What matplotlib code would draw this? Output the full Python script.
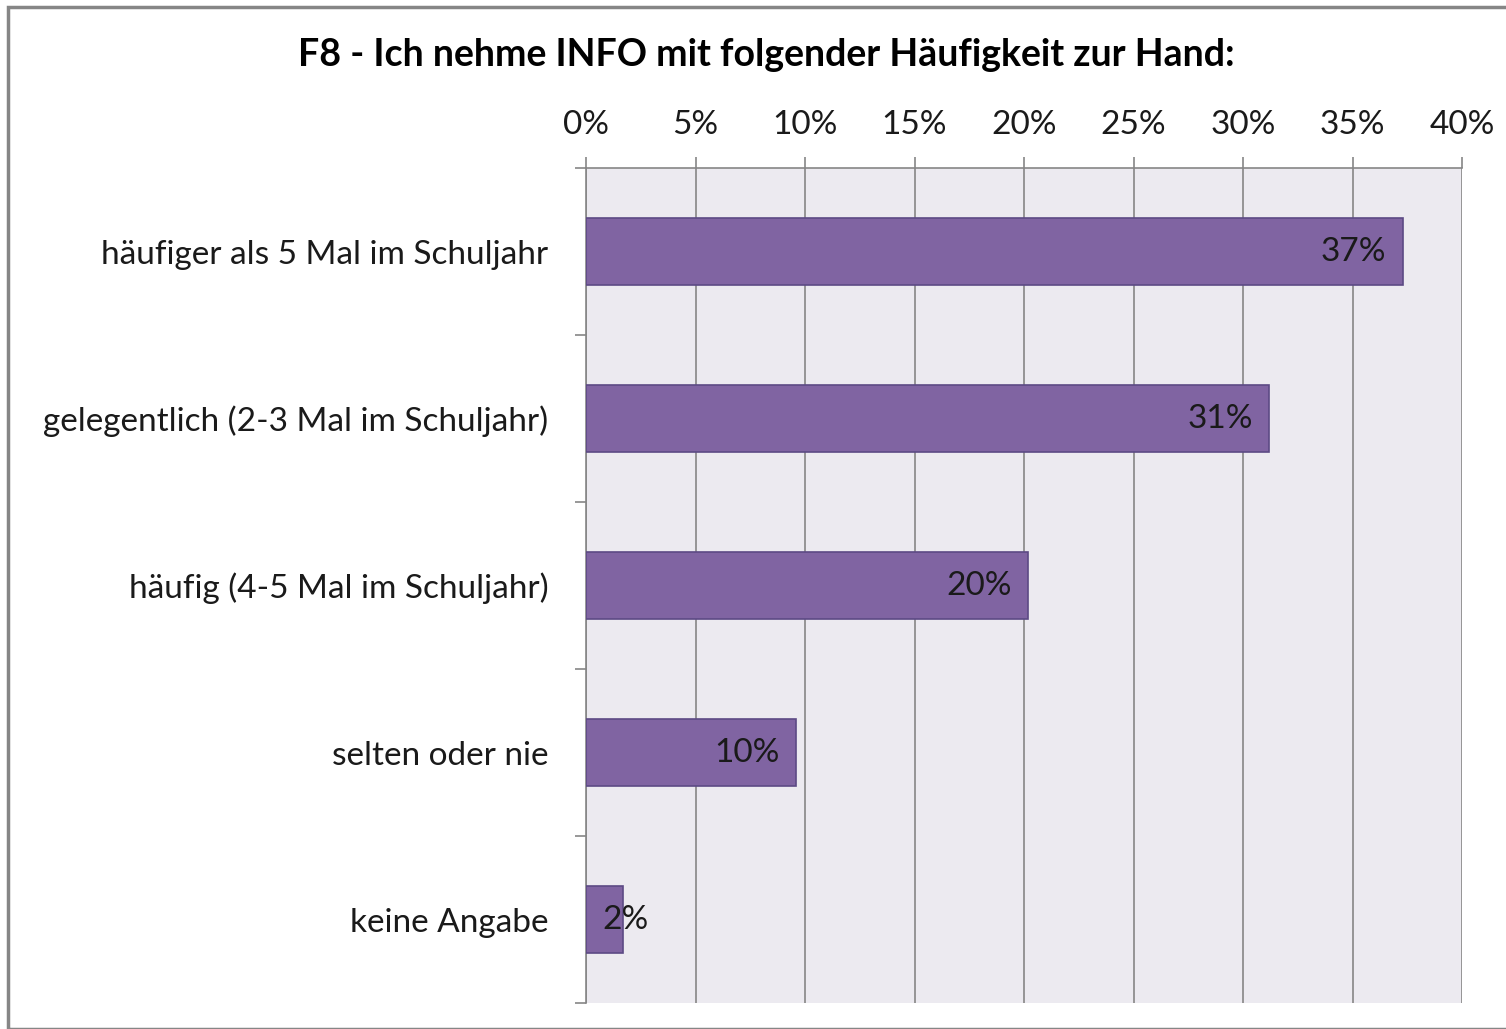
import matplotlib
matplotlib.use("Agg")
import matplotlib.pyplot as plt
from matplotlib.patches import Rectangle
from matplotlib.ticker import FuncFormatter, MultipleLocator

categories = ["häufiger als 5 Mal im Schuljahr",
              "gelegentlich (2-3 Mal im Schuljahr)",
              "häufig (4-5 Mal im Schuljahr)",
              "selten oder nie",
              "keine Angabe"]
values = [37.3, 31.2, 20.2, 9.6, 1.7]
labels = ["37%", "31%", "20%", "10%", "2%"]
title = "F8 - Ich nehme INFO mit folgender Häufigkeit zur Hand:"

plt.rcParams['font.family'] = ['Lato', 'DejaVu Sans']

W, H = 1506, 1029
fig = plt.figure(figsize=(W / 100, H / 100), dpi=100)
fig.patch.set_facecolor('white')

# outer frame
fig.patches.append(Rectangle((8 / W, 0), 1.0, 1 - 7 / H, transform=fig.transFigure,
                             fill=False, edgecolor='#868686', linewidth=2.5))

left, right, top, bottom = 586, 1462, 168, 1003
ax = fig.add_axes([left / W, 1 - bottom / H, (right - left) / W, (bottom - top) / H])
ax.set_facecolor('#ECEAF0')

FS = 24

n = len(categories)
ypos = list(range(n))
ax.barh(ypos, values, height=0.4, color='#8064A2', edgecolor='#5C4A85', linewidth=1.2, zorder=3)
ax.set_ylim(n - 0.5, -0.5)
ax.set_xlim(0, 40)

ax.xaxis.set_major_locator(MultipleLocator(5))
ax.xaxis.set_major_formatter(FuncFormatter(lambda v, p: f"{int(round(v))}%"))
ax.xaxis.tick_top()
ax.grid(axis='x', color='#868686', linewidth=1.2, zorder=1)
ax.tick_params(axis='x', length=8, color='#868686', width=1.2, labelsize=FS,
               pad=12, labelcolor='#1a1a1a')

ax.set_yticks([i - 0.5 for i in range(n + 1)], minor=False)
ax.set_yticklabels([])
ax.set_yticks(ypos, minor=True)
ax.set_yticklabels(categories, minor=True)
ax.tick_params(axis='y', which='major', length=8, color='#868686', width=1.2)
ax.tick_params(axis='y', which='minor', length=0, labelsize=FS, pad=27, labelcolor='#1a1a1a')

for side in ['right', 'bottom']:
    ax.spines[side].set_visible(False)
ax.spines['left'].set_color('#868686')
ax.spines['left'].set_linewidth(1.2)
ax.spines['top'].set_color('#868686')
ax.spines['top'].set_linewidth(1.2)

for i, (v, lab) in enumerate(zip(values, labels)):
    if v < 5:
        ax.annotate(lab, (0, i), xytext=(12, 0), textcoords='offset points',
                    ha='left', va='center', fontsize=FS, color='#1a1a1a', zorder=4)
    else:
        ax.annotate(lab, (v, i), xytext=(-12, 0), textcoords='offset points',
                    ha='right', va='center', fontsize=FS, color='#1a1a1a', zorder=4)

fig.text(766 / W, 1 - 55 / H, title, ha='center', va='center', fontsize=27,
         fontweight='bold', color='#000000')

fig.savefig('out.png', dpi=100)
